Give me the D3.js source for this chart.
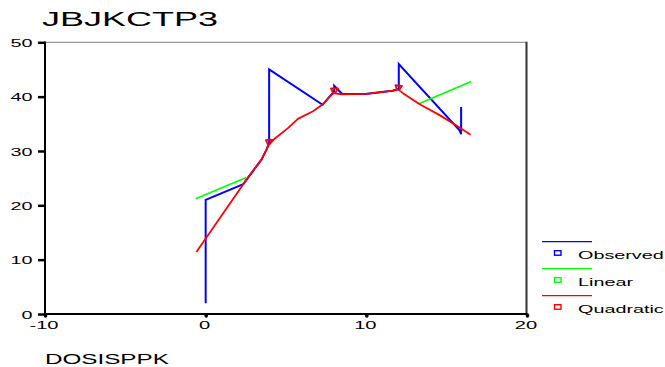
<!DOCTYPE html>
<html>
<head>
<meta charset="utf-8">
<script src="https://cdn.jsdelivr.net/npm/d3@7"></script>
<style>
  html, body { margin: 0; padding: 0; background: #fff; }
  svg { display: block; font-family: "Liberation Sans", Arial, sans-serif; }
</style>
</head>
<body>
<svg id="chart" width="665" height="367"></svg>
<script>
// ---- data ----
const chartTitle = "JBJKCTP3";
const xAxisTitle = "DOSISPPK";
const xTicks = [-10, 0, 10, 20];
const yTicks = [0, 10, 20, 30, 40, 50];
const seriesNames = ["Observed", "Linear", "Quadratic"];
const seriesColors = ["#0000ff", "#00ff00", "#ff0000"];

// Observed values, connected in case order (stretches hidden under the red curve follow it)
const observedX = [0, 0, 2.34, 3.47, 3.78, 3.95, 3.95, 7.28, 8.0, 8.0, 8.5, 9.96, 10.83, 11.64, 12.02, 12.02, 15.8, 15.9, 15.9];
const observedY = [2.0, 21.0, 23.9, 28.4, 30.2, 31.5, 45.0, 38.5, 41.0, 42.0, 40.5, 40.5, 40.8, 41.1, 41.4, 46.0, 33.8, 33.1, 38.1];

// Linear fit (two visible pieces)
const linearX1 = [-0.62, 2.53];
const linearY1 = [21.2, 25.1];
const linearX2 = [13.27, 16.53];
const linearY2 = [38.7, 42.8];

// Quadratic fit, evaluated in case order
const quadX = [-0.58, 2.63, 3.47, 3.78, 3.91, 3.75, 4.13, 3.97, 4.31, 5.12, 5.74, 6.68, 7.30, 7.72,
               7.95, 7.80, 8.23, 8.05, 8.48, 9.96, 10.83, 11.64,
               11.91, 11.81, 12.22, 12.03, 12.30, 13.32, 14.56, 15.6, 16.49];
const quadY = [11.4, 25.1, 28.4, 30.2, 31.0, 32.0, 32.1, 31.2, 32.3, 34.2, 35.9, 37.3, 38.6, 40.0,
               40.6, 41.5, 41.5, 40.6, 40.4, 40.5, 40.8, 41.1,
               41.3, 42.1, 42.0, 41.2, 40.6, 38.6, 36.6, 34.7, 33.0];

// ---- drawing ----
const svg = d3.select("#chart");
const L = 45, R = 527, T = 42.3, B = 314;
const x = d3.scaleLinear().domain([-10, 20]).range([L, R]);
const y = d3.scaleLinear().domain([0, 50]).range([B, T]);

function stretch(sel, k) {
  sel.each(function() {
    const w = this.getComputedTextLength();
    d3.select(this).attr("textLength", w * k).attr("lengthAdjust", "spacingAndGlyphs");
  });
}

// frame (top and right)
svg.append("line").attr("x1", L).attr("x2", R).attr("y1", T).attr("y2", T)
  .attr("stroke", "#808080").attr("stroke-width", 1);
svg.append("line").attr("x1", R - 0.5).attr("x2", R - 0.5).attr("y1", T - 0.5).attr("y2", B)
  .attr("stroke", "#333").attr("stroke-width", 2);

// title
svg.append("text").attr("x", 42).attr("y", 26).attr("font-size", 20).attr("fill", "#000")
  .text(chartTitle).call(stretch, 1.8);

// x axis title
svg.append("text").attr("x", 45).attr("y", 364).attr("font-size", 14).attr("fill", "#000")
  .text(xAxisTitle).call(stretch, 1.73);

// y axis
const gy = svg.append("g").attr("transform", `translate(${L},0)`)
  .call(d3.axisLeft(y).tickValues(yTicks).tickSize(7).tickPadding(5).tickFormat(d => String(d)));
gy.select(".domain").remove();
gy.selectAll(".tick line").attr("stroke", "#000").attr("stroke-width", 2.5);
gy.selectAll(".tick text").attr("font-size", 11.5).attr("fill", "#000")
  .attr("font-family", "Liberation Sans, Arial, sans-serif").attr("dy", "0.36em").attr("x", -12.5)
  .call(stretch, 1.72);

// x axis
const gx = svg.append("g").attr("transform", `translate(0,${B})`)
  .call(d3.axisBottom(x).tickValues(xTicks).tickSize(2).tickPadding(5).tickFormat(d => String(d)));
gx.select(".domain").remove();
gx.selectAll(".tick line").attr("stroke", "#000").attr("stroke-width", 3.5).attr("stroke-linecap", "round").attr("y1", 1);
gx.selectAll(".tick text").attr("font-size", 11.5).attr("fill", "#000")
  .attr("font-family", "Liberation Sans, Arial, sans-serif").attr("dx", -1.5).attr("y", 7).attr("dy", "0.71em")
  .call(stretch, 1.75);

// axis lines (left & bottom)
svg.append("line").attr("x1", L).attr("x2", L).attr("y1", T - 0.8).attr("y2", B + 1)
  .attr("stroke", "#000").attr("stroke-width", 2);
svg.append("line").attr("x1", L).attr("x2", R).attr("y1", B).attr("y2", B)
  .attr("stroke", "#000").attr("stroke-width", 2);

const line = d3.line().x(d => x(d[0])).y(d => y(d[1]));
const zip = (a, b) => a.map((v, i) => [v, b[i]]);

// observed
svg.append("path").datum(zip(observedX, observedY)).attr("d", line)
  .attr("fill", "none").attr("stroke", seriesColors[0]).attr("stroke-width", 2).attr("stroke-linejoin", "miter");
// linear
[[linearX1, linearY1], [linearX2, linearY2]].forEach(([xs, ys]) => {
  svg.append("path").datum(zip(xs, ys)).attr("d", line)
    .attr("fill", "none").attr("stroke", seriesColors[1]).attr("stroke-width", 1.6);
});
// quadratic
svg.append("path").datum(zip(quadX, quadY)).attr("d", line)
  .attr("fill", "none").attr("stroke", seriesColors[2]).attr("stroke-width", 1.8).attr("stroke-linejoin", "round");

// legend
const leg = svg.append("g");
seriesNames.forEach((name, i) => {
  const y0 = 241.7 + i * 27;
  leg.append("line").attr("x1", 542).attr("x2", 592).attr("y1", y0).attr("y2", y0)
    .attr("stroke", seriesColors[i]).attr("stroke-width", 1.3);
  leg.append("rect").attr("x", 554.5).attr("y", y0 + 9).attr("width", 6.5).attr("height", 4.5)
    .attr("fill", "#fff").attr("stroke", seriesColors[i]).attr("stroke-width", 1.4);
  leg.append("text").attr("x", 578).attr("y", y0 + 17.3).attr("font-size", 11.5).attr("fill", "#000")
    .text(name).call(stretch, 1.72);
});
</script>
</body>
</html>
